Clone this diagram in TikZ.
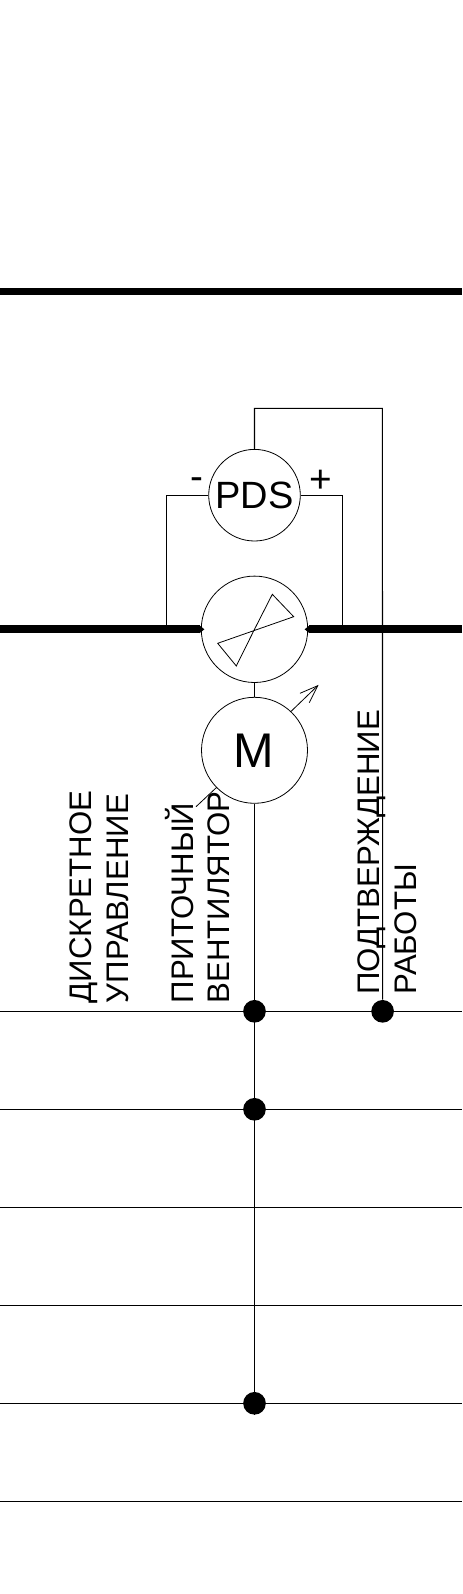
\documentclass[tikz,border=0pt]{standalone}
\usepackage{fontspec}
\setmainfont{Liberation Sans}
\tikzset{
 thin line/.style={draw=black,line width=0.8pt},
 duct/.style={draw=black,line width=5.8pt},
 ring/.style={circle,draw=black,line width=0.6pt,fill=white,inner sep=0pt},
 dotmark/.style={circle,fill=black,inner sep=0pt,minimum size=17pt},
 vlabel/.style={rotate=90,anchor=base west,inner sep=0pt,font=\fontsize{23.4pt}{23.4pt}\selectfont},
 fine/.style={draw=black,line width=0.6pt},
}
\begin{document}
\begin{tikzpicture}[x=0.75pt,y=-0.75pt]
\useasboundingbox (0,0) rectangle (462,1594);
\fill[white] (0,0) rectangle (462,1594);
\coordinate (tl) at (0,291.5); \coordinate (tr) at (462,291.5);
\draw[duct] (tl) -- (tr);
\foreach \n/\y in {a/1011.3,b/1109.3,c/1207.3,d/1305.3,e/1403.3,f/1501.3}{
 \coordinate (\n l) at (0,\y); \coordinate (\n r) at (462,\y);
 \draw[thin line] (\n l) -- (\n r);
}
\node[ring,minimum size=106.4pt*0.75] (fan) at (254.5,629.3) {};
\node[ring,minimum size=91.6pt*0.75] (pds) at (254.5,495.2) {};
\node[ring,minimum size=106pt*0.75] (mot) at (254.5,750.3) {};
\node[dotmark] (d1) at (254.5,1011.3) {};
\node[dotmark] (d2) at (254.5,1109.3) {};
\node[dotmark] (d3) at (254.5,1403.3) {};
\node[dotmark] (d4) at (382.6,1011.3) {};
\coordinate (dl) at (0,629.3); \coordinate (dr) at (462,629.3);
\draw[duct] (dl) -- ([xshift=-0.75pt]fan.west);
\draw[duct] (dr) -- ([xshift=0.75pt]fan.east);
\fill[black] ([xshift=-1pt,yshift=2.9pt]fan.west) -- ([xshift=2.6pt]fan.west) -- ([xshift=-1pt,yshift=-2.9pt]fan.west) -- cycle;
\fill[black] ([xshift=1pt,yshift=2.9pt]fan.east) -- ([xshift=-2.6pt]fan.east) -- ([xshift=1pt,yshift=-2.9pt]fan.east) -- cycle;
\draw[thin line] (fan.south) -- (mot.north);
\draw[thin line] (mot.south) -- (d3.south);
\coordinate (pt1) at (254.5,408.3); \coordinate (pt2) at (382.4,408.3);
\draw[thin line] (pds.north) -- (pt1) -- (pt2) -- (d4);
\coordinate (pl1) at (166.3,495.2); \coordinate (pl2) at (166.3,629.3);
\coordinate (pr1) at (342.3,495.2); \coordinate (pr2) at (342.3,629.3);
\draw[thin line] (pds.west) -- (pl1) -- (pl2);
\draw[thin line] (pds.east) -- (pr1) -- (pr2);
\draw[fine] (fan.center) -- (272.3,594.3) -- (293.7,616.7) -- (217.7,643.3) -- (236.3,666) -- cycle;
\coordinate (ll) at (196,806.7); \coordinate (lm) at (216.7,787.3);
\draw[fine] (ll) -- (lm);
\coordinate (as) at (290.7,711.7); \coordinate (at) at (317.7,685.7);
\coordinate (ab1) at (300,693.3); \coordinate (ab2) at (309.3,702.7);
\draw[fine] (as) -- (at);
\draw[fine] (ab1) -- (at) -- (ab2);
\node[font=\fontsize{28.5pt}{28.5pt}\selectfont,inner sep=0pt] (pdst) at (254.7,495) {PDS};
\node[font=\fontsize{36.5pt}{36.5pt}\selectfont,inner sep=0pt] (mt) at (253.5,750.8) {M};
\node[font=\fontsize{29pt}{29pt}\selectfont,inner sep=0pt] (plus) at (320.5,481.7) {+};
\node[font=\fontsize{29pt}{29pt}\selectfont,inner sep=0pt] (minus) at (197.3,483.7) {-};
\node[vlabel] (l1) at (91.7,1003.5) {ДИСКРЕТНОЕ};
\node[vlabel] (l2) at (128,1003.5) {УПРАВЛЕНИЕ};
\node[vlabel] (l3) at (193,1003.5) {ПРИТОЧНЫЙ};
\node[vlabel] (l4) at (229,1003.5) {ВЕНТИЛЯТОР};
\node[vlabel] (l5) at (379.3,995) {ПОДТВЕРЖДЕНИЕ};
\node[vlabel] (l6) at (416,995) {РАБОТЫ};
\end{tikzpicture}
\end{document}
